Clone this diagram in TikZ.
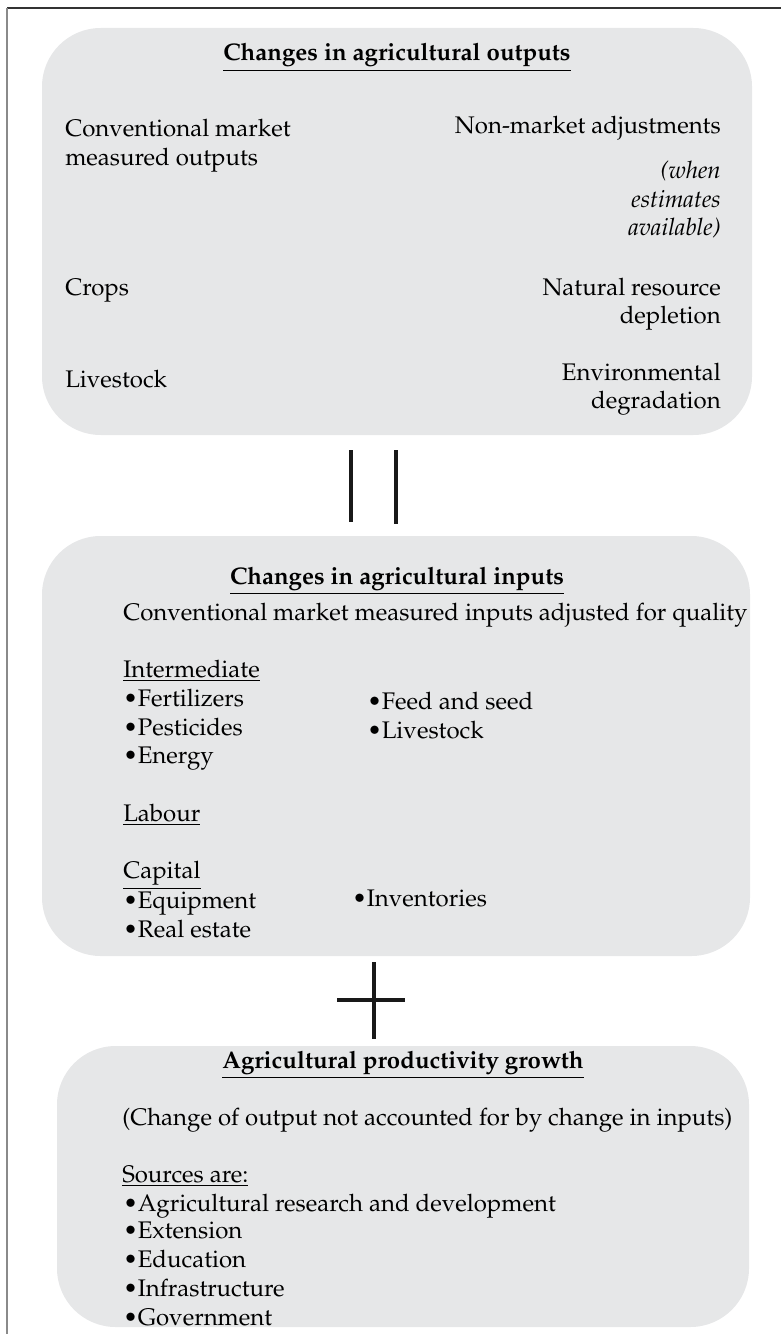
\documentclass[tikz,border=0pt]{standalone}
\usepackage[T1]{fontenc}
\usepackage{mathpazo}
\usepackage{textcomp}
\definecolor{boxgray}{HTML}{E6E7E8}
\definecolor{framegray}{HTML}{8A8A8A}
\definecolor{topline}{HTML}{333333}
\begin{document}
\begin{tikzpicture}[x=0.75pt,y=-0.75pt,
  box/.style={fill=boxgray, draw=none, rounded corners=44pt, inner sep=0pt},
  txt/.style={inner sep=0pt, font=\fontsize{18}{22}\selectfont},
  lt/.style={txt, anchor=base west},
  rt/.style={txt, anchor=base east},
  ttl/.style={txt, anchor=base, font=\fontsize{18}{22}\selectfont\bfseries},
  sym/.style={line width=3.6pt, black!90}]
\useasboundingbox (0,0) rectangle (781,1334);
% frame
\draw[topline, line width=1.5pt] (7,8) -- (781,8);
\draw[framegray, line width=1.5pt] (7,8) -- (7,1334);
% boxes
\node[box, minimum width=532.5pt, minimum height=305.25pt] (b1) at (397,231.5) {};
\node[box, minimum width=531pt, minimum height=315pt] (b2) at (396,746) {};
\node[box, minimum width=519pt, minimum height=210.75pt] (b3) at (403,1186.5) {};
% box 1
\node[ttl] (t1) at (397,61) {\underline{Changes in agricultural outputs}};
\node[lt] (c1) at (65,137) {Conventional market};
\node[lt] (c2) at (65,166) {measured outputs};
\node[rt] (n1) at (721,134) {Non-market adjustments};
\node[rt] (w1) at (721,178) {\itshape (when};
\node[rt] (w2) at (721,207) {\itshape estimates};
\node[rt] (w3) at (721,235) {\itshape available)};
\node[lt] (cr) at (65,295) {Crops};
\node[rt] (nr1) at (721,295) {Natural resource};
\node[rt] (nr2) at (721,323) {depletion};
\node[lt] (lv) at (65,387) {Livestock};
\node[rt] (ed1) at (721,380) {Environmental};
\node[rt] (ed2) at (721,408) {degradation};
% equals
\coordinate (e1a) at (351,450); \coordinate (e1b) at (351,522);
\coordinate (e2a) at (396,450); \coordinate (e2b) at (396,524);
\draw[sym] (e1a) -- (e1b);
\draw[sym] (e2a) -- (e2b);
% box 2
\node[ttl] (t2) at (397,584) {\underline{Changes in agricultural inputs}};
\node[lt] (cm) at (123,620) {Conventional market measured inputs adjusted for quality};
\node[lt] (im) at (123,677) {\underline{Intermediate}};
\node[lt] (f1) at (123,706) {\textbullet Fertilizers};
\node[lt] (f2) at (123,735) {\textbullet Pesticides};
\node[lt] (f3) at (123,763) {\textbullet Energy};
\node[lt] (f4) at (367,709) {\textbullet Feed and seed};
\node[lt] (f5) at (367,738) {\textbullet Livestock};
\node[lt] (lb) at (123,821) {\underline{Labour}};
\node[lt] (cp) at (123,878) {\underline{Capital}};
\node[lt] (k1) at (123,908) {\textbullet Equipment};
\node[lt] (k2) at (123,937) {\textbullet Real estate};
\node[lt] (k3) at (352,906) {\textbullet Inventories};
% plus
\coordinate (pv1) at (374,962); \coordinate (pv2) at (374,1039);
\coordinate (ph1) at (337,1000); \coordinate (ph2) at (405,1000);
\draw[sym] (pv1) -- (pv2);
\draw[sym] (ph1) -- (ph2);
% box 3
\node[ttl] (t3) at (403,1068) {\underline{Agricultural productivity growth}};
\node[lt] (ch) at (122,1125) {(Change of output not accounted for by change in inputs)};
\node[lt] (sa) at (122,1182) {\underline{Sources are:}};
\node[lt] (s1) at (123,1211) {\textbullet Agricultural research and development};
\node[lt] (s2) at (123,1238) {\textbullet Extension};
\node[lt] (s3) at (123,1267) {\textbullet Education};
\node[lt] (s4) at (123,1296) {\textbullet Infrastructure};
\node[lt] (s5) at (123,1325) {\textbullet Government};
\end{tikzpicture}
\end{document}
